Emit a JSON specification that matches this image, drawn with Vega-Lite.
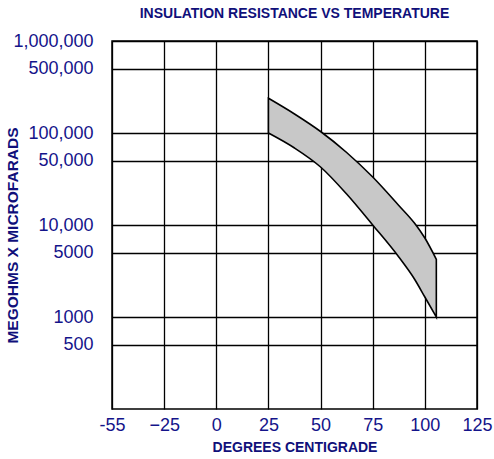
{
  "$schema": "https://vega.github.io/schema/vega-lite/v6.json",
  "width": 365,
  "height": 368,
  "autosize": {"type": "none"},
  "padding": {"left": 112, "top": 41, "right": 17, "bottom": 50},
  "background": "white",
  "title": {
    "text": "INSULATION RESISTANCE VS TEMPERATURE",
    "font": "Liberation Sans",
    "fontSize": 14,
    "fontWeight": "bold",
    "color": "#10107a",
    "anchor": "middle",
    "frame": "group",
    "baseline": "alphabetic",
    "offset": 0
  },
  "config": {
    "view": {"stroke": "black", "strokeWidth": 1.5},
    "axis": {
      "zindex": 1,
      "domain": false,
      "ticks": false,
      "grid": true,
      "gridColor": "black",
      "gridWidth": 1.3,
      "gridOpacity": 1,
      "labelFont": "Liberation Sans",
      "labelFontSize": 18,
      "labelColor": "#14148a",
      "titleFont": "Liberation Sans",
      "titleFontWeight": "bold",
      "titleColor": "#10107a"
    }
  },
  "data": {
    "values": [
      {"t": 25, "lo": 100000, "hi": 238400},
      {"t": 37.5, "lo": 68700, "hi": 160900},
      {"t": 50, "lo": 42700, "hi": 103800},
      {"t": 62.5, "lo": 21700, "hi": 61400},
      {"t": 75, "lo": 10000, "hi": 33200},
      {"t": 87.5, "lo": 4490, "hi": 16300},
      {"t": 95, "lo": 2590, "hi": 10500},
      {"t": 100, "lo": 1650, "hi": 7220},
      {"t": 105.5, "lo": 1000, "hi": 4240}
    ]
  },
  "mark": {
    "type": "area",
    "interpolate": "monotone",
    "fill": "#c8c8c8",
    "fillOpacity": 1,
    "stroke": "black",
    "strokeWidth": 1.6
  },
  "encoding": {
    "x": {
      "field": "t",
      "type": "quantitative",
      "scale": {"domain": [-50, 125], "nice": false, "zero": false},
      "axis": {
        "title": "DEGREES CENTIGRADE",
        "titleFontSize": 14,
        "titlePadding": 6,
        "labelPadding": 7,
        "values": [-50, -25, 0, 25, 50, 75, 100, 125],
        "labelExpr": "datum.value == -50 ? '-55' : datum.label",
        "labelFlush": false
      }
    },
    "y": {
      "field": "hi",
      "type": "quantitative",
      "scale": {"type": "log", "domain": [100, 1000000], "nice": false},
      "axis": {
        "title": "MEGOHMS X MICROFARADS",
        "titleFontSize": 15.5,
        "titleX": -95,
        "titleY": 194,
        "titleBaseline": "alphabetic",
        "labelPadding": 19,
        "values": [500, 1000, 5000, 10000, 50000, 100000, 500000, 1000000],
        "labelExpr": "datum.value >= 10000 ? format(datum.value, ',') : format(datum.value, 'd')",
        "labelFlush": false
      }
    },
    "y2": {"field": "lo"}
  }
}
